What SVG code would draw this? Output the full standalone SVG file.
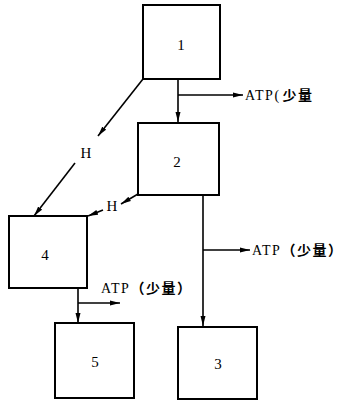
<svg xmlns="http://www.w3.org/2000/svg" width="350" height="403" viewBox="0 0 350 403">
<style>
.box{fill:#fff;stroke:#000;stroke-width:2}
.ln{fill:none;stroke:#000;stroke-width:1.6}
.num{font-family:"Liberation Serif",serif;font-size:15px;text-anchor:middle;fill:#000}
.lbl{font-family:"Liberation Serif","Noto Sans CJK SC",serif;font-size:14px;fill:#000;letter-spacing:1.5px}
.cj{font-weight:bold}
.h{font-family:"Liberation Serif",serif;font-size:15px;fill:#000;text-anchor:middle}
</style>
<defs>
<marker id="ah" markerUnits="userSpaceOnUse" markerWidth="11" markerHeight="6" refX="10" refY="3" orient="auto">
<path d="M0,0.5 L10,3 L0,5.5 z" fill="#000"/>
</marker>
</defs>
<rect width="350" height="403" fill="#fff"/>
<g id="connectors">
<path class="ln" d="M178,79 V122" marker-end="url(#ah)"/>
<path class="ln" d="M178,95 H243" marker-end="url(#ah)"/>
<path class="ln" d="M143,79 L98,136" marker-end="url(#ah)"/>
<path class="ln" d="M75,163 L34,216" marker-end="url(#ah)"/>
<path class="ln" d="M138,194 L121,204" marker-end="url(#ah)"/>
<path class="ln" d="M103,210 L88,216" marker-end="url(#ah)"/>
<path class="ln" d="M203,195 V326" marker-end="url(#ah)"/>
<path class="ln" d="M203,250 H250" marker-end="url(#ah)"/>
<path class="ln" d="M78,288 V323" marker-end="url(#ah)"/>
<path class="ln" d="M78,303 H120" marker-end="url(#ah)"/>
<text class="h" x="86" y="158">H</text>
<text class="h" x="112" y="211">H</text>
<text class="lbl" x="245" y="100">ATP(<tspan class="cj" dx="2">少量</tspan></text>
<text class="lbl" x="252" y="255">ATP<tspan class="cj">（少量）</tspan></text>
<text class="lbl" x="101" y="293">ATP<tspan class="cj">（少量）</tspan></text>
</g>
<g id="node1"><rect class="box" x="143" y="5" width="77" height="74"/><text class="num" x="181" y="50">1</text></g>
<g id="node2"><rect class="box" x="138" y="123" width="81" height="72"/><text class="num" x="177" y="167">2</text></g>
<g id="node4"><rect class="box" x="9" y="216" width="78" height="72"/><text class="num" x="45" y="260">4</text></g>
<g id="node5"><rect class="box" x="55" y="323" width="79" height="75"/><text class="num" x="95" y="367">5</text></g>
<g id="node3"><rect class="box" x="178" y="327" width="79" height="72"/><text class="num" x="218" y="369">3</text></g>
</svg>
